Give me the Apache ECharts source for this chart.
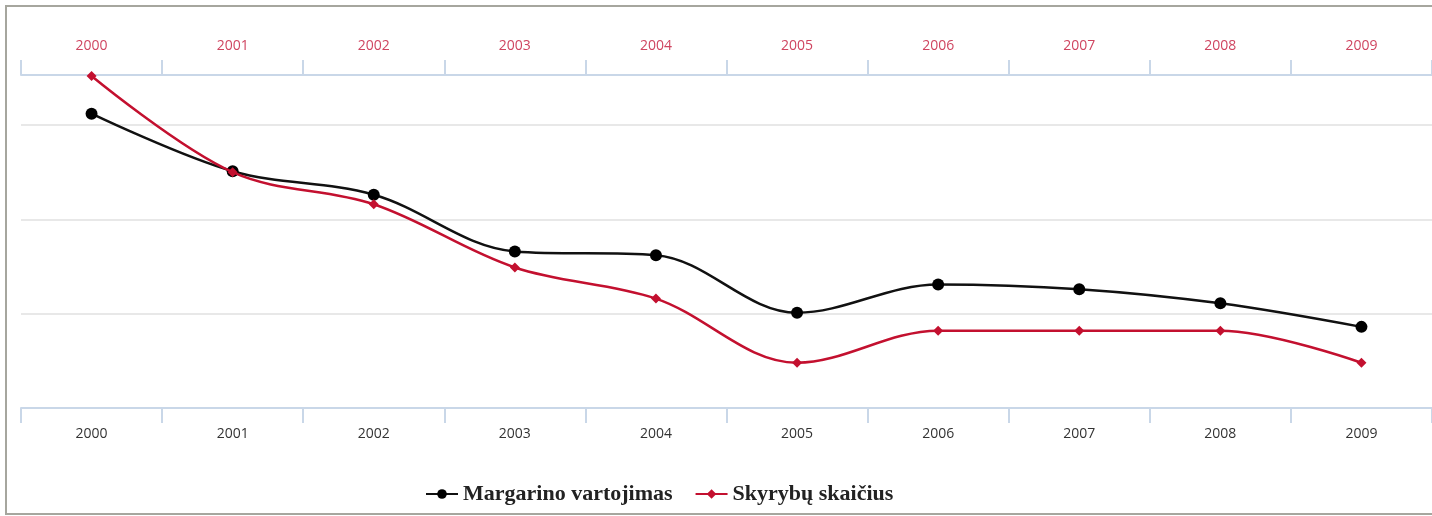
<!DOCTYPE html>
<html>
<head>
<meta charset="utf-8">
<script src="https://cdn.jsdelivr.net/npm/echarts@6/dist/echarts.min.js"></script>
<style>
  html, body { margin: 0; padding: 0; background: #fff; }
  #grafico { width: 1432px; height: 516px; }
</style>
</head>
<body>
<div id="grafico"></div>
<script>
// Datos del gráfico (unidades relativas, 10 = una línea de la cuadrícula)
const metai = ['2000', '2001', '2002', '2003', '2004', '2005', '2006', '2007', '2008', '2009'];
const margarinas = [31.2, 25.1, 22.6, 16.6, 16.2, 10.1, 13.1, 12.6, 11.1, 8.6];
const skyrybos = [35.2, 25.0, 21.6, 14.9, 11.6, 4.8, 8.2, 8.2, 8.2, 4.8];

const grafico = echarts.init(document.getElementById('grafico'));

const ejeX = (posicion, colorTexto, margen) => ({
    type: 'category',
    data: metai,
    position: posicion,
    boundaryGap: true,
    axisLine: { show: true, lineStyle: { color: '#c9d7e8', width: 2 } },
    axisTick: { show: true, alignWithLabel: false, length: 15, lineStyle: { color: '#c9d7e8', width: 2 } },
    axisLabel: { margin: margen, color: colorTexto, fontSize: 14, fontFamily: '"Open Sans", sans-serif' }
});

const option = {
    animation: false,
    backgroundColor: '#fff',
    graphic: [{
        type: 'rect',
        shape: { x: 6, y: 6, width: 1440, height: 508 },
        style: { fill: 'none', stroke: '#a6a69e', lineWidth: 2 },
        z: 100
    }],
    grid: { left: 21, top: 75, width: 1414, bottom: 108 },
    legend: {
        left: 420,
        top: 478,
        itemGap: 22,
        itemWidth: 32,
        itemHeight: 12,
        textStyle: {
            fontFamily: '"Liberation Serif", serif',
            fontWeight: 'bold',
            fontSize: 22,
            color: '#222'
        },
        data: ['Margarino vartojimas', 'Skyrybų skaičius']
    },
    xAxis: [
        ejeX('bottom', '#333', 19),
        ejeX('top', '#cf4560', 22)
    ],
    yAxis: {
        type: 'value',
        min: 0,
        max: 35.3,
        interval: 10,
        axisLabel: { show: false },
        axisLine: { show: false },
        axisTick: { show: false },
        splitLine: { lineStyle: { color: '#e8e8e8', width: 2 } }
    },
    series: [
        {
            name: 'Margarino vartojimas',
            type: 'line',
            data: margarinas,
            smooth: 0.35,
            symbol: 'circle',
            symbolSize: 12,
            itemStyle: { color: '#000' },
            lineStyle: { color: '#111', width: 2.5 },
            z: 3
        },
        {
            name: 'Skyrybų skaičius',
            type: 'line',
            data: skyrybos,
            smooth: 0.35,
            symbol: 'diamond',
            symbolSize: 10,
            itemStyle: { color: '#c3102f' },
            lineStyle: { color: '#c3102f', width: 2.5 },
            z: 4
        }
    ]
};

grafico.setOption(option);
</script>
</body>
</html>
